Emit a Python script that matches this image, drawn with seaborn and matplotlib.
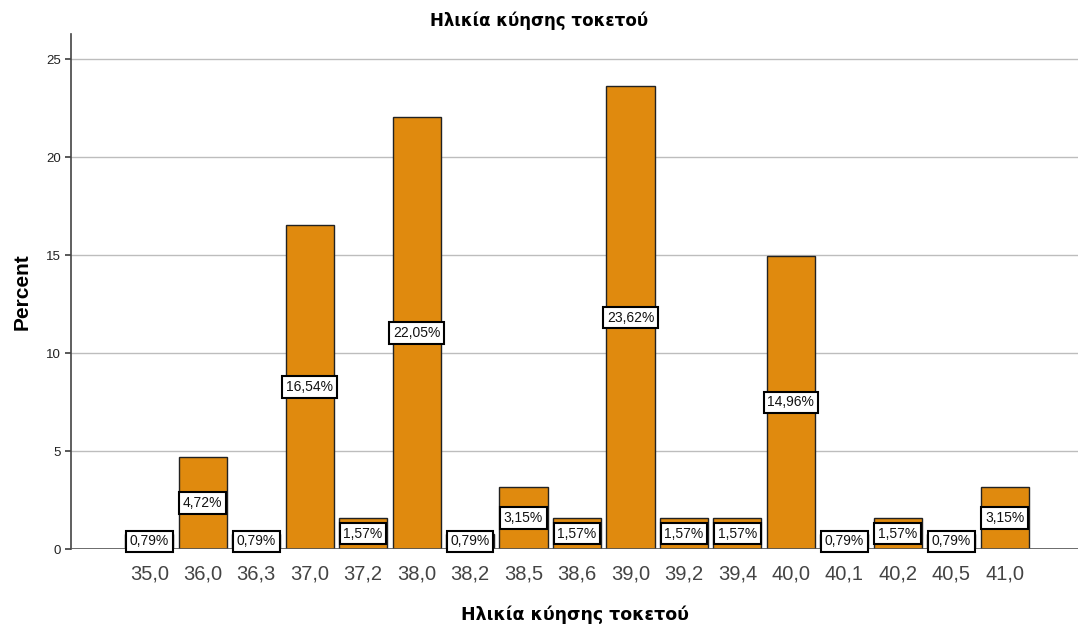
import matplotlib

matplotlib.use("Agg")
import matplotlib.pyplot as plt
import pandas as pd
import seaborn as sns

# gestational age at delivery (weeks) and share of cases (%)
weeks = ["35,0", "36,0", "36,3", "37,0", "37,2", "38,0", "38,2", "38,5", "38,6",
         "39,0", "39,2", "39,4", "40,0", "40,1", "40,2", "40,5", "41,0"]
percent = [0.79, 4.72, 0.79, 16.54, 1.57, 22.05, 0.79, 3.15, 1.57,
           23.62, 1.57, 1.57, 14.96, 0.79, 1.57, 0.79, 3.15]
y_ticks = [0, 5, 10, 15, 20, 25]

TITLE = "Ηλικία κύησης τοκετού"
BAR_COLOR = "#E08A0E"

sns.set_theme(style="white")
plt.rcParams["font.family"] = ["Liberation Sans", "DejaVu Sans"]
plt.rcParams["text.color"] = "black"
plt.rcParams["axes.labelcolor"] = "black"

df = pd.DataFrame({"week": weeks, "percent": percent})

fig = plt.figure(figsize=(10.78, 6.26), dpi=100)
ax = fig.add_axes([0.066, 0.123, 0.934, 0.823])

sns.barplot(data=df, x="week", y="percent", order=weeks, color=BAR_COLOR,
            saturation=1, width=0.9, edgecolor="#222222", linewidth=1,
            ax=ax, zorder=3)

# value labels in white boxes at mid-height of each bar
for i, val in enumerate(percent):
    ax.text(i, val / 2, f"{val:.2f}%".replace(".", ","), ha="center",
            va="center", fontsize=10, color="#111111", zorder=5,
            bbox=dict(boxstyle="square,pad=0.27", fc="white", ec="black",
                      lw=1.5))

ax.set_xlim(-1.46, 16 + 1.37)
ax.set_ylim(0, 26.3)
ax.set_yticks(y_ticks)
ax.yaxis.grid(True, color="#BDBDBD", linewidth=1, zorder=0)
ax.axhline(0, color="#555555", linewidth=1.2, zorder=4)

for side in ["top", "right", "bottom"]:
    ax.spines[side].set_visible(False)
ax.spines["left"].set_color("#444444")
ax.spines["left"].set_linewidth(1.2)

ax.tick_params(axis="x", length=0, labelsize=14.5, labelcolor="#444444", pad=11)
ax.tick_params(axis="y", length=4, left=True, labelsize=9.5,
               labelcolor="#222222", color="#444444")

ax.set_xlabel(TITLE, fontsize=12.5, fontweight="bold", family=["DejaVu Sans"],
              labelpad=16)
ax.set_ylabel("Percent", fontsize=15, fontweight="bold", labelpad=10)
fig.suptitle(TITLE, x=0.5, y=0.982, fontsize=12, fontweight="bold",
             family=["DejaVu Sans"])

fig.savefig("out.png", dpi=100)
